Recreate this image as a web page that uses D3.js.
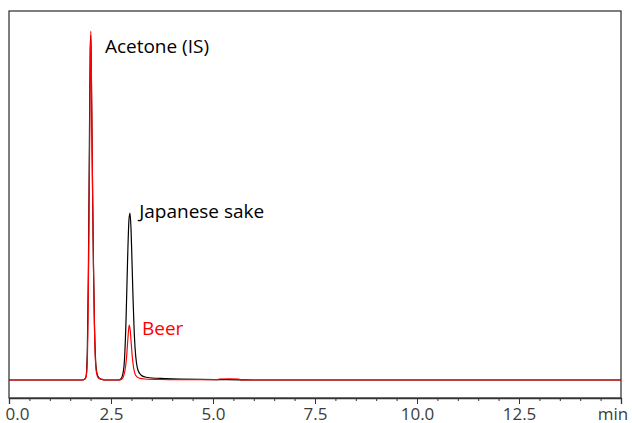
<!DOCTYPE html>
<html>
<head>
<meta charset="utf-8">
<script src="https://cdn.jsdelivr.net/npm/d3@7"></script>
<style>
	body { margin: 0; background: #fff; }
	svg { display: block; font-family: "Open Sans", sans-serif; }
</style>
</head>
<body>
<script>
// Width, height and plot area
const w = 632;
const h = 423;
const plot = { left: 9, right: 621, top: 11, bottom: 398 };

// Retention time (min) and detector signal
const sakeTime = [0, 1.80, 1.86, 1.89, 1.92, 1.945, 1.97, 1.99, 2.005, 2.02, 2.045, 2.07, 2.095, 2.12, 2.15, 2.19, 2.25, 2.35,
	2.68, 2.74, 2.79, 2.83, 2.87, 2.905, 2.94, 2.965, 2.99, 3.015, 3.04, 3.065, 3.09, 3.125, 3.16, 3.235, 3.33, 3.50, 3.82, 4.19, 4.68, 5.05, 5.66, 6.0, 15];
const sakeSignal = [0, 0, 1, 4, 30, 105, 235, 330, 345, 300, 200, 115, 55, 22, 8, 3, 1, 0,
	0, 1, 6, 20, 62, 118, 160, 167, 152, 118, 82, 52, 32, 17, 10, 5, 3, 2, 1.5, 1, 0.6, 0.4, 0.2, 0, 0];

const beerTime = [0, 1.80, 1.86, 1.89, 1.915, 1.94, 1.965, 1.99, 2.005, 2.02, 2.045, 2.07, 2.095, 2.12, 2.15, 2.19, 2.25, 2.35,
	2.70, 2.75, 2.80, 2.84, 2.88, 2.915, 2.945, 2.97, 2.995, 3.02, 3.055, 3.10, 3.18, 3.33, 3.70, 4.2, 5.10, 5.16, 5.40, 5.63, 5.68, 15];
const beerSignal = [0, 0, 1, 3, 15, 70, 180, 300, 349, 305, 205, 115, 52, 18, 6, 2, 1, 0,
	0, 0.5, 3, 9, 22, 42, 55, 50, 37, 24, 12, 5, 2, 1, 0.5, 0.3, 0.3, 1, 1.2, 1, 0, 0];

// Peak labels
const labels = [
	{ text: "Acetone (IS)", t: 2.35, v: 327, color: "#000" },
	{ text: "Japanese sake", t: 3.19, v: 162, color: "#000" },
	{ text: "Beer", t: 3.26, v: 45, color: "#ff0000" }
];

// Axis ticks
const majorTicks = [0, 2.5, 5, 7.5, 10, 12.5, 15];
const tickLabels = ["0.0", "2.5", "5.0", "7.5", "10.0", "12.5"];
const minorTicks = d3.range(0, 15.01, 0.5);

const svg = d3.select("body").append("svg").attr("width", w).attr("height", h);

const xScale = d3.scaleLinear().domain([0, 15]).range([plot.left, plot.right]);
const yScale = d3.scaleLinear().domain([-18, 369]).range([plot.bottom, plot.top]);

// Frame
svg
	.append("rect")
	.attr("x", plot.left)
	.attr("y", plot.top)
	.attr("width", plot.right - plot.left)
	.attr("height", plot.bottom - plot.top)
	.attr("fill", "none")
	.attr("stroke", "#3a3a3a")
	.attr("stroke-width", 1.3);

// Traces: sake (black) underneath, beer (red) on top
const line = d3
	.line()
	.x((d) => xScale(d[0]))
	.y((d) => yScale(d[1]))
	.curve(d3.curveMonotoneX);

svg
	.append("path")
	.datum(d3.zip(sakeTime, sakeSignal))
	.attr("d", line)
	.attr("fill", "none")
	.attr("stroke", "#000")
	.attr("stroke-width", 1.2);

svg
	.append("path")
	.datum(d3.zip(beerTime, beerSignal))
	.attr("d", line)
	.attr("fill", "none")
	.attr("stroke", "#ff0000")
	.attr("stroke-width", 1.2);

// Minor ticks
svg
	.append("g")
	.attr("transform", `translate(0, ${plot.bottom})`)
	.call(d3.axisBottom(xScale).tickValues(minorTicks).tickSize(3).tickFormat(""))
	.call((g) => g.select(".domain").remove())
	.selectAll("line")
	.attr("stroke", "#333");

// Major ticks with labels
const xAxis = svg
	.append("g")
	.attr("transform", `translate(0, ${plot.bottom})`)
	.call(
		d3
			.axisBottom(xScale)
			.tickValues(majorTicks)
			.tickSize(6)
			.tickPadding(4)
			.tickFormat((d, i) => tickLabels[i] || "")
	);
xAxis.select(".domain").attr("stroke", "#333").attr("stroke-width", 1.3);
xAxis.selectAll("line").attr("stroke", "#333");
xAxis
	.selectAll("text")
	.attr("fill", "#3c3c3c")
	.style("font-size", "17px")
	.style("font-family", "'Open Sans', sans-serif");
// keep "0.0" inside the window
xAxis.selectAll("text").filter((d) => d === 0).attr("x", 8);

svg
	.append("text")
	.attr("x", 613)
	.attr("y", 420)
	.attr("text-anchor", "middle")
	.attr("fill", "#3c3c3c")
	.style("font-size", "17px")
	.text("min");

// Peak labels
svg
	.selectAll(".peak-label")
	.data(labels)
	.enter()
	.append("text")
	.attr("class", "peak-label")
	.attr("x", (d) => xScale(d.t))
	.attr("y", (d) => yScale(d.v))
	.attr("fill", (d) => d.color)
	.style("font-size", "19px")
	.text((d) => d.text);
</script>
</body>
</html>
